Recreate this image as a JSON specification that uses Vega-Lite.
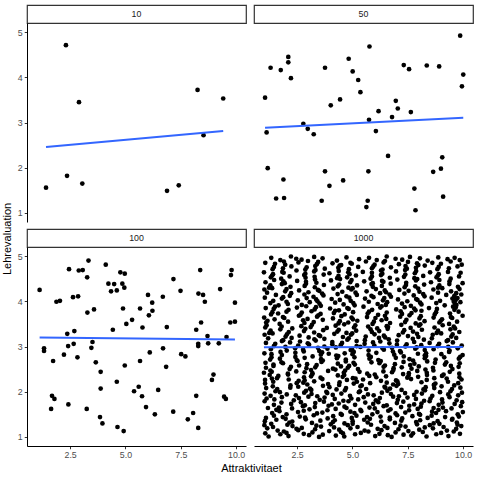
{
"$schema":"https://vega.github.io/schema/vega-lite/v6.json",
"padding":{"left":2,"top":4,"right":6,"bottom":4},
"config":{"font":"Liberation Sans","view":{"stroke":null},"axis":{"labelFont":"Liberation Sans","labelFontSize":8.8,"labelColor":"#4d4d4d","tickColor":"#333333","tickSize":2.75,"tickWidth":1,"domainColor":"black","domainWidth":1,"grid":false,"labelPadding":2},"title":{"font":"Liberation Sans","fontSize":11,"fontWeight":"normal","color":"black"}},
"datasets":{
"d10":[{"x":1.41,"y":1.56},{"x":2.31,"y":4.71},{"x":2.36,"y":1.82},{"x":2.90,"y":3.45},{"x":3.05,"y":1.65},{"x":6.88,"y":1.49},{"x":7.41,"y":1.61},{"x":8.26,"y":3.72},{"x":8.53,"y":2.72},{"x":9.42,"y":3.53}],
"d50":[{"x":9.87,"y":4.92},{"x":5.77,"y":4.68},{"x":2.10,"y":4.45},{"x":2.10,"y":4.33},{"x":4.83,"y":4.41},{"x":1.30,"y":4.21},{"x":1.76,"y":4.16},{"x":3.76,"y":4.21},{"x":5.01,"y":4.13},{"x":7.32,"y":4.27},{"x":7.56,"y":4.18},{"x":8.36,"y":4.26},{"x":8.92,"y":4.24},{"x":10.01,"y":4.06},{"x":2.22,"y":3.98},{"x":5.26,"y":3.94},{"x":9.95,"y":3.80},{"x":5.36,"y":3.67},{"x":1.05,"y":3.55},{"x":4.44,"y":3.51},{"x":4.02,"y":3.38},{"x":6.96,"y":3.48},{"x":7.05,"y":3.31},{"x":6.18,"y":3.25},{"x":7.64,"y":3.23},{"x":6.79,"y":3.12},{"x":5.75,"y":3.06},{"x":2.78,"y":2.97},{"x":2.98,"y":2.86},{"x":3.25,"y":2.74},{"x":1.12,"y":2.78},{"x":6.06,"y":2.81},{"x":6.61,"y":2.26},{"x":1.17,"y":1.99},{"x":1.88,"y":1.74},{"x":3.76,"y":1.92},{"x":4.58,"y":1.72},{"x":3.96,"y":1.60},{"x":5.72,"y":1.92},{"x":9.06,"y":2.23},{"x":8.65,"y":1.91},{"x":9.00,"y":1.98},{"x":1.55,"y":1.32},{"x":1.91,"y":1.33},{"x":3.61,"y":1.27},{"x":5.69,"y":1.27},{"x":5.63,"y":1.13},{"x":7.80,"y":1.54},{"x":7.85,"y":1.06},{"x":9.10,"y":1.36}],
"d100":[{"x":1.12,"y":4.25},{"x":1.32,"y":2.96},{"x":1.32,"y":2.90},{"x":1.73,"y":2.68},{"x":1.68,"y":1.91},{"x":1.79,"y":1.84},{"x":1.64,"y":1.62},{"x":1.88,"y":3.99},{"x":2.04,"y":4.01},{"x":2.22,"y":2.82},{"x":2.37,"y":3.28},{"x":2.41,"y":3.01},{"x":2.45,"y":4.71},{"x":2.42,"y":1.72},{"x":2.63,"y":4.09},{"x":2.86,"y":4.11},{"x":2.69,"y":3.34},{"x":2.66,"y":3.06},{"x":2.83,"y":2.76},{"x":2.89,"y":4.68},{"x":3.07,"y":4.69},{"x":3.33,"y":4.90},{"x":3.27,"y":4.53},{"x":3.28,"y":3.75},{"x":3.58,"y":3.82},{"x":3.51,"y":3.10},{"x":3.46,"y":2.97},{"x":3.66,"y":2.65},{"x":3.25,"y":1.62},{"x":3.88,"y":2.44},{"x":3.88,"y":2.07},{"x":3.85,"y":1.44},{"x":3.96,"y":1.30},{"x":4.11,"y":4.81},{"x":4.23,"y":4.39},{"x":4.35,"y":4.22},{"x":4.49,"y":4.38},{"x":4.61,"y":4.24},{"x":4.43,"y":3.37},{"x":4.77,"y":4.64},{"x":4.97,"y":4.61},{"x":4.86,"y":4.39},{"x":4.95,"y":4.30},{"x":4.89,"y":3.84},{"x":5.04,"y":3.50},{"x":4.97,"y":2.58},{"x":4.61,"y":2.22},{"x":4.64,"y":1.22},{"x":4.92,"y":1.13},{"x":5.30,"y":3.59},{"x":5.39,"y":2.01},{"x":5.60,"y":2.11},{"x":5.66,"y":3.84},{"x":5.66,"y":2.68},{"x":5.77,"y":3.42},{"x":5.75,"y":1.90},{"x":5.93,"y":1.66},{"x":6.02,"y":4.14},{"x":6.06,"y":3.69},{"x":6.10,"y":2.87},{"x":6.21,"y":3.97},{"x":6.22,"y":3.79},{"x":6.33,"y":1.50},{"x":6.48,"y":2.04},{"x":6.69,"y":4.10},{"x":6.70,"y":2.96},{"x":6.87,"y":3.43},{"x":6.84,"y":2.55},{"x":7.17,"y":4.49},{"x":7.16,"y":1.56},{"x":7.49,"y":4.23},{"x":7.52,"y":2.83},{"x":7.71,"y":2.78},{"x":7.82,"y":1.39},{"x":8.06,"y":1.53},{"x":8.20,"y":3.37},{"x":8.20,"y":1.91},{"x":8.29,"y":3.06},{"x":8.29,"y":3.01},{"x":8.29,"y":1.20},{"x":8.30,"y":4.17},{"x":8.38,"y":4.69},{"x":8.42,"y":3.53},{"x":8.51,"y":4.14},{"x":8.59,"y":3.99},{"x":8.71,"y":3.23},{"x":8.74,"y":3.07},{"x":8.91,"y":2.26},{"x":8.98,"y":2.38},{"x":9.22,"y":3.07},{"x":9.28,"y":4.27},{"x":9.46,"y":1.89},{"x":9.54,"y":1.84},{"x":9.57,"y":3.21},{"x":9.74,"y":3.53},{"x":9.77,"y":4.58},{"x":9.80,"y":4.69},{"x":9.95,"y":3.97},{"x":9.95,"y":3.55}],
"d1000":[
{"x":1.06,"y":1.08},{"x":1.21,"y":1.01},{"x":1.74,"y":1.06},{"x":2.02,"y":1.09},{"x":2.11,"y":1.02},{"x":2.80,"y":1.07},{"x":3.04,"y":1.04},{"x":3.49,"y":1.00},{"x":3.66,"y":1.05},{"x":4.25,"y":1.03},{"x":4.57,"y":1.08},{"x":4.63,"y":1.01},{"x":5.12,"y":1.06},{"x":5.38,"y":1.09},{"x":6.03,"y":1.02},{"x":6.22,"y":1.07},{"x":6.60,"y":1.04},{"x":6.77,"y":1.00},{"x":7.31,"y":1.05},{"x":7.66,"y":1.03},{"x":7.74,"y":1.08},{"x":8.35,"y":1.01},{"x":8.79,"y":1.06},{"x":9.01,"y":1.09},{"x":9.34,"y":1.02},{"x":9.86,"y":1.07},
{"x":1.15,"y":1.19},{"x":1.62,"y":1.14},{"x":1.90,"y":1.12},{"x":2.47,"y":1.18},{"x":2.55,"y":1.15},{"x":3.19,"y":1.10},{"x":3.31,"y":1.17},{"x":3.95,"y":1.13},{"x":4.40,"y":1.16},{"x":4.48,"y":1.11},{"x":4.91,"y":1.19},{"x":5.55,"y":1.14},{"x":5.72,"y":1.12},{"x":6.14,"y":1.18},{"x":6.31,"y":1.15},{"x":6.95,"y":1.10},{"x":7.08,"y":1.17},{"x":7.53,"y":1.13},{"x":8.02,"y":1.16},{"x":8.18,"y":1.11},{"x":8.64,"y":1.19},{"x":9.27,"y":1.14},{"x":9.58,"y":1.12},{"x":9.69,"y":1.18},
{"x":1.02,"y":1.26},{"x":1.33,"y":1.29},{"x":1.41,"y":1.22},{"x":2.06,"y":1.27},{"x":2.29,"y":1.24},{"x":2.71,"y":1.20},{"x":3.37,"y":1.25},{"x":3.58,"y":1.23},{"x":4.02,"y":1.28},{"x":4.17,"y":1.21},{"x":4.79,"y":1.26},{"x":5.01,"y":1.29},{"x":5.23,"y":1.22},{"x":5.84,"y":1.27},{"x":6.45,"y":1.24},{"x":6.58,"y":1.20},{"x":7.17,"y":1.25},{"x":7.40,"y":1.23},{"x":7.92,"y":1.28},{"x":8.27,"y":1.21},{"x":8.50,"y":1.26},{"x":8.93,"y":1.29},{"x":9.12,"y":1.22},{"x":9.75,"y":1.27},{"x":9.92,"y":1.24},
{"x":9.72,"y":1.32},{"x":9.50,"y":1.38},{"x":8.85,"y":1.35},{"x":8.67,"y":1.30},{"x":8.06,"y":1.37},{"x":7.88,"y":1.33},{"x":7.21,"y":1.36},{"x":6.92,"y":1.31},{"x":6.69,"y":1.39},{"x":6.30,"y":1.34},{"x":5.69,"y":1.32},{"x":5.53,"y":1.38},{"x":5.01,"y":1.35},{"x":4.64,"y":1.30},{"x":4.20,"y":1.37},{"x":4.12,"y":1.33},{"x":3.55,"y":1.36},{"x":3.17,"y":1.31},{"x":2.89,"y":1.39},{"x":2.28,"y":1.34},{"x":2.15,"y":1.32},{"x":1.56,"y":1.38},{"x":1.04,"y":1.35},
{"x":1.09,"y":1.42},{"x":1.45,"y":1.47},{"x":1.85,"y":1.44},{"x":1.98,"y":1.40},{"x":2.62,"y":1.45},{"x":2.86,"y":1.43},{"x":3.25,"y":1.48},{"x":3.88,"y":1.41},{"x":4.13,"y":1.46},{"x":4.52,"y":1.49},{"x":4.97,"y":1.42},{"x":5.18,"y":1.47},{"x":5.66,"y":1.44},{"x":5.79,"y":1.40},{"x":6.27,"y":1.45},{"x":6.69,"y":1.43},{"x":7.02,"y":1.48},{"x":7.25,"y":1.41},{"x":7.71,"y":1.46},{"x":8.06,"y":1.49},{"x":8.40,"y":1.42},{"x":8.58,"y":1.47},{"x":9.19,"y":1.44},{"x":9.52,"y":1.40},{"x":9.81,"y":1.45},
{"x":9.99,"y":1.55},{"x":9.76,"y":1.50},{"x":9.23,"y":1.57},{"x":8.78,"y":1.53},{"x":8.60,"y":1.56},{"x":8.01,"y":1.51},{"x":7.56,"y":1.59},{"x":7.39,"y":1.54},{"x":6.95,"y":1.52},{"x":6.62,"y":1.58},{"x":6.13,"y":1.55},{"x":5.90,"y":1.50},{"x":5.40,"y":1.57},{"x":5.09,"y":1.53},{"x":4.91,"y":1.56},{"x":4.47,"y":1.51},{"x":3.87,"y":1.59},{"x":3.64,"y":1.54},{"x":3.40,"y":1.52},{"x":2.80,"y":1.58},{"x":2.54,"y":1.55},{"x":2.02,"y":1.50},{"x":1.70,"y":1.57},{"x":1.37,"y":1.53},
{"x":1.18,"y":1.64},{"x":1.56,"y":1.60},{"x":1.68,"y":1.65},{"x":2.27,"y":1.63},{"x":2.76,"y":1.68},{"x":3.06,"y":1.61},{"x":3.30,"y":1.66},{"x":3.92,"y":1.69},{"x":4.24,"y":1.62},{"x":4.64,"y":1.67},{"x":4.73,"y":1.64},{"x":5.36,"y":1.60},{"x":5.77,"y":1.65},{"x":6.01,"y":1.63},{"x":6.41,"y":1.68},{"x":6.72,"y":1.61},{"x":7.20,"y":1.66},{"x":7.57,"y":1.69},{"x":7.95,"y":1.62},{"x":8.09,"y":1.67},{"x":8.67,"y":1.64},{"x":8.89,"y":1.60},{"x":9.09,"y":1.65},{"x":9.48,"y":1.63},{"x":9.90,"y":1.68},
{"x":9.96,"y":1.77},{"x":9.62,"y":1.73},{"x":9.07,"y":1.76},{"x":8.90,"y":1.71},{"x":8.49,"y":1.79},{"x":8.12,"y":1.74},{"x":7.79,"y":1.72},{"x":7.30,"y":1.78},{"x":7.01,"y":1.75},{"x":6.55,"y":1.70},{"x":6.17,"y":1.77},{"x":5.94,"y":1.73},{"x":5.58,"y":1.76},{"x":5.12,"y":1.71},{"x":4.82,"y":1.79},{"x":4.38,"y":1.74},{"x":4.07,"y":1.72},{"x":3.71,"y":1.78},{"x":3.32,"y":1.75},{"x":2.85,"y":1.70},{"x":2.67,"y":1.77},{"x":2.23,"y":1.73},{"x":1.79,"y":1.76},{"x":1.45,"y":1.71},{"x":1.03,"y":1.79},
{"x":1.12,"y":1.85},{"x":1.47,"y":1.83},{"x":1.81,"y":1.88},{"x":2.35,"y":1.81},{"x":2.58,"y":1.86},{"x":3.01,"y":1.89},{"x":3.52,"y":1.82},{"x":3.74,"y":1.87},{"x":4.20,"y":1.84},{"x":4.59,"y":1.80},{"x":4.95,"y":1.85},{"x":5.26,"y":1.83},{"x":5.51,"y":1.88},{"x":6.06,"y":1.81},{"x":6.24,"y":1.86},{"x":6.84,"y":1.89},{"x":7.05,"y":1.82},{"x":7.49,"y":1.87},{"x":7.87,"y":1.84},{"x":8.24,"y":1.80},{"x":8.53,"y":1.85},{"x":9.05,"y":1.83},{"x":9.39,"y":1.88},{"x":9.71,"y":1.81},
{"x":1.03,"y":1.96},{"x":1.30,"y":1.91},{"x":1.72,"y":1.99},{"x":2.03,"y":1.94},{"x":2.44,"y":1.92},{"x":2.82,"y":1.98},{"x":3.15,"y":1.95},{"x":3.41,"y":1.90},{"x":3.86,"y":1.97},{"x":4.11,"y":1.93},{"x":4.50,"y":1.96},{"x":4.89,"y":1.91},{"x":5.29,"y":1.99},{"x":5.70,"y":1.94},{"x":5.96,"y":1.92},{"x":6.33,"y":1.98},{"x":6.74,"y":1.95},{"x":7.10,"y":1.90},{"x":7.38,"y":1.97},{"x":7.79,"y":1.93},{"x":8.14,"y":1.96},{"x":8.61,"y":1.91},{"x":8.96,"y":1.99},{"x":9.33,"y":1.94},{"x":9.78,"y":1.92},{"x":9.95,"y":1.98},
{"x":1.10,"y":2.08},{"x":1.52,"y":2.01},{"x":1.60,"y":2.06},{"x":2.19,"y":2.09},{"x":2.90,"y":2.02},{"x":3.08,"y":2.07},{"x":3.14,"y":2.04},{"x":3.82,"y":2.00},{"x":4.28,"y":2.05},{"x":4.66,"y":2.03},{"x":4.71,"y":2.08},{"x":5.34,"y":2.01},{"x":5.62,"y":2.06},{"x":6.49,"y":2.09},{"x":6.58,"y":2.02},{"x":6.70,"y":2.07},{"x":7.22,"y":2.04},{"x":7.90,"y":2.00},{"x":8.21,"y":2.05},{"x":8.28,"y":2.03},{"x":8.70,"y":2.08},{"x":9.43,"y":2.01},{"x":9.50,"y":2.06},{"x":9.88,"y":2.09},
{"x":9.78,"y":2.19},{"x":9.60,"y":2.14},{"x":9.03,"y":2.12},{"x":8.75,"y":2.18},{"x":8.68,"y":2.15},{"x":8.31,"y":2.10},{"x":7.07,"y":2.17},{"x":6.99,"y":2.13},{"x":6.84,"y":2.16},{"x":6.45,"y":2.11},{"x":5.80,"y":2.19},{"x":5.42,"y":2.14},{"x":5.36,"y":2.12},{"x":5.06,"y":2.18},{"x":4.40,"y":2.15},{"x":3.96,"y":2.10},{"x":3.90,"y":2.17},{"x":3.67,"y":2.13},{"x":2.96,"y":2.16},{"x":2.55,"y":2.11},{"x":2.48,"y":2.19},{"x":2.20,"y":2.14},{"x":1.40,"y":2.12},{"x":1.05,"y":2.18},
{"x":1.05,"y":2.26},{"x":1.36,"y":2.29},{"x":1.42,"y":2.22},{"x":2.12,"y":2.27},{"x":2.57,"y":2.24},{"x":2.78,"y":2.20},{"x":2.84,"y":2.25},{"x":3.27,"y":2.23},{"x":3.64,"y":2.28},{"x":4.42,"y":2.21},{"x":4.75,"y":2.26},{"x":5.14,"y":2.29},{"x":5.20,"y":2.22},{"x":5.48,"y":2.27},{"x":6.29,"y":2.24},{"x":6.55,"y":2.20},{"x":6.97,"y":2.25},{"x":7.03,"y":2.23},{"x":7.65,"y":2.28},{"x":8.12,"y":2.21},{"x":8.36,"y":2.26},{"x":9.26,"y":2.29},{"x":9.32,"y":2.22},{"x":9.93,"y":2.27},
{"x":9.84,"y":2.32},{"x":9.12,"y":2.38},{"x":9.05,"y":2.35},{"x":8.70,"y":2.30},{"x":8.37,"y":2.37},{"x":7.97,"y":2.33},{"x":7.54,"y":2.36},{"x":7.48,"y":2.31},{"x":7.29,"y":2.39},{"x":6.52,"y":2.34},{"x":6.08,"y":2.32},{"x":6.01,"y":2.38},{"x":5.76,"y":2.35},{"x":5.02,"y":2.30},{"x":4.63,"y":2.37},{"x":4.56,"y":2.33},{"x":4.34,"y":2.36},{"x":3.56,"y":2.31},{"x":3.19,"y":2.39},{"x":3.13,"y":2.34},{"x":2.81,"y":2.32},{"x":2.09,"y":2.38},{"x":1.65,"y":2.35},{"x":1.59,"y":2.30},{"x":1.26,"y":2.37},
{"x":1.00,"y":2.42},{"x":1.29,"y":2.47},{"x":1.35,"y":2.44},{"x":2.08,"y":2.40},{"x":2.46,"y":2.45},{"x":2.84,"y":2.43},{"x":3.13,"y":2.48},{"x":3.19,"y":2.41},{"x":3.90,"y":2.46},{"x":4.23,"y":2.49},{"x":4.61,"y":2.42},{"x":4.67,"y":2.47},{"x":5.32,"y":2.44},{"x":5.67,"y":2.40},{"x":6.40,"y":2.45},{"x":6.79,"y":2.43},{"x":6.85,"y":2.48},{"x":7.55,"y":2.41},{"x":7.93,"y":2.46},{"x":8.30,"y":2.49},{"x":8.36,"y":2.42},{"x":8.66,"y":2.47},{"x":9.40,"y":2.44},{"x":9.83,"y":2.40},
{"x":9.80,"y":2.55},{"x":9.52,"y":2.50},{"x":9.45,"y":2.57},{"x":8.64,"y":2.53},{"x":8.00,"y":2.56},{"x":7.67,"y":2.51},{"x":7.61,"y":2.59},{"x":7.23,"y":2.54},{"x":6.86,"y":2.52},{"x":6.47,"y":2.58},{"x":6.41,"y":2.55},{"x":5.25,"y":2.50},{"x":4.85,"y":2.57},{"x":4.79,"y":2.53},{"x":4.48,"y":2.56},{"x":4.12,"y":2.51},{"x":3.38,"y":2.59},{"x":3.32,"y":2.54},{"x":2.92,"y":2.52},{"x":2.59,"y":2.58},{"x":2.22,"y":2.55},{"x":2.16,"y":2.50},{"x":1.43,"y":2.57},{"x":1.09,"y":2.53},
{"x":1.07,"y":2.64},{"x":1.43,"y":2.60},{"x":1.79,"y":2.65},{"x":1.86,"y":2.63},{"x":2.52,"y":2.68},{"x":2.95,"y":2.61},{"x":3.60,"y":2.66},{"x":3.66,"y":2.69},{"x":4.34,"y":2.62},{"x":4.70,"y":2.67},{"x":5.05,"y":2.64},{"x":5.11,"y":2.60},{"x":5.86,"y":2.65},{"x":6.22,"y":2.63},{"x":6.28,"y":2.68},{"x":6.92,"y":2.61},{"x":7.31,"y":2.66},{"x":7.74,"y":2.69},{"x":7.80,"y":2.62},{"x":8.38,"y":2.67},{"x":8.73,"y":2.64},{"x":9.18,"y":2.60},{"x":9.24,"y":2.65},{"x":9.85,"y":2.63},
{"x":9.87,"y":2.77},{"x":9.81,"y":2.73},{"x":9.15,"y":2.76},{"x":8.76,"y":2.71},{"x":8.33,"y":2.79},{"x":8.27,"y":2.74},{"x":7.58,"y":2.72},{"x":7.32,"y":2.78},{"x":6.96,"y":2.75},{"x":6.17,"y":2.70},{"x":5.83,"y":2.77},{"x":5.77,"y":2.73},{"x":5.09,"y":2.76},{"x":4.70,"y":2.71},{"x":4.36,"y":2.79},{"x":4.30,"y":2.74},{"x":3.58,"y":2.72},{"x":3.20,"y":2.78},{"x":2.84,"y":2.75},{"x":2.48,"y":2.70},{"x":2.42,"y":2.77},{"x":1.72,"y":2.73},{"x":1.34,"y":2.76},{"x":1.28,"y":2.71},
{"x":1.02,"y":2.85},{"x":1.34,"y":2.83},{"x":1.75,"y":2.88},{"x":1.81,"y":2.81},{"x":2.42,"y":2.86},{"x":2.80,"y":2.89},{"x":3.57,"y":2.82},{"x":3.63,"y":2.87},{"x":3.93,"y":2.84},{"x":4.27,"y":2.80},{"x":4.65,"y":2.85},{"x":5.00,"y":2.83},{"x":5.06,"y":2.88},{"x":5.73,"y":2.81},{"x":6.08,"y":2.86},{"x":6.83,"y":2.89},{"x":6.89,"y":2.82},{"x":7.19,"y":2.87},{"x":7.96,"y":2.84},{"x":8.27,"y":2.80},{"x":8.33,"y":2.85},{"x":9.02,"y":2.83},{"x":9.37,"y":2.88},{"x":9.98,"y":2.81},
{"x":9.76,"y":2.96},{"x":9.39,"y":2.91},{"x":9.33,"y":2.99},{"x":8.67,"y":2.94},{"x":8.27,"y":2.92},{"x":7.90,"y":2.98},{"x":7.84,"y":2.95},{"x":7.15,"y":2.90},{"x":6.79,"y":2.97},{"x":6.42,"y":2.93},{"x":6.36,"y":2.96},{"x":5.73,"y":2.91},{"x":5.36,"y":2.99},{"x":4.98,"y":2.94},{"x":4.92,"y":2.92},{"x":4.25,"y":2.98},{"x":3.87,"y":2.95},{"x":3.50,"y":2.90},{"x":3.44,"y":2.97},{"x":2.77,"y":2.93},{"x":2.41,"y":2.96},{"x":2.03,"y":2.91},{"x":1.97,"y":2.99},{"x":1.31,"y":2.94},
{"x":1.09,"y":3.08},{"x":1.45,"y":3.01},{"x":1.51,"y":3.06},{"x":2.18,"y":3.09},{"x":2.55,"y":3.02},{"x":2.98,"y":3.07},{"x":3.04,"y":3.04},{"x":3.73,"y":3.00},{"x":4.09,"y":3.05},{"x":4.47,"y":3.03},{"x":4.53,"y":3.08},{"x":5.19,"y":3.01},{"x":5.55,"y":3.06},{"x":5.93,"y":3.09},{"x":5.99,"y":3.02},{"x":6.67,"y":3.07},{"x":7.01,"y":3.04},{"x":7.39,"y":3.00},{"x":7.45,"y":3.05},{"x":8.11,"y":3.03},{"x":8.49,"y":3.08},{"x":8.86,"y":3.01},{"x":8.92,"y":3.06},{"x":9.54,"y":3.09},{"x":9.94,"y":3.02},
{"x":9.69,"y":3.19},{"x":9.32,"y":3.14},{"x":9.26,"y":3.12},{"x":8.59,"y":3.18},{"x":8.23,"y":3.15},{"x":7.79,"y":3.10},{"x":7.73,"y":3.17},{"x":7.02,"y":3.13},{"x":6.64,"y":3.16},{"x":6.26,"y":3.11},{"x":6.20,"y":3.19},{"x":5.56,"y":3.14},{"x":5.19,"y":3.12},{"x":4.83,"y":3.18},{"x":4.77,"y":3.15},{"x":4.09,"y":3.10},{"x":3.73,"y":3.17},{"x":3.34,"y":3.13},{"x":3.28,"y":3.16},{"x":2.63,"y":3.11},{"x":2.25,"y":3.19},{"x":1.87,"y":3.14},{"x":1.81,"y":3.12},{"x":1.19,"y":3.18},
{"x":1.03,"y":3.26},{"x":1.39,"y":3.29},{"x":1.98,"y":3.22},{"x":2.04,"y":3.27},{"x":2.61,"y":3.24},{"x":3.02,"y":3.20},{"x":3.48,"y":3.25},{"x":3.54,"y":3.23},{"x":4.18,"y":3.28},{"x":4.57,"y":3.21},{"x":4.93,"y":3.26},{"x":4.99,"y":3.29},{"x":5.60,"y":3.22},{"x":6.00,"y":3.27},{"x":6.42,"y":3.24},{"x":6.48,"y":3.20},{"x":7.09,"y":3.25},{"x":7.51,"y":3.23},{"x":7.92,"y":3.28},{"x":7.98,"y":3.21},{"x":8.63,"y":3.26},{"x":9.01,"y":3.29},{"x":9.47,"y":3.22},{"x":9.53,"y":3.27},
{"x":9.83,"y":3.32},{"x":9.43,"y":3.38},{"x":8.87,"y":3.35},{"x":8.81,"y":3.30},{"x":8.14,"y":3.37},{"x":7.74,"y":3.33},{"x":7.34,"y":3.36},{"x":7.28,"y":3.31},{"x":6.59,"y":3.39},{"x":6.21,"y":3.34},{"x":5.88,"y":3.32},{"x":5.82,"y":3.38},{"x":5.17,"y":3.35},{"x":4.73,"y":3.30},{"x":4.38,"y":3.37},{"x":4.32,"y":3.33},{"x":3.68,"y":3.36},{"x":3.27,"y":3.31},{"x":2.87,"y":3.39},{"x":2.81,"y":3.34},{"x":2.12,"y":3.32},{"x":1.74,"y":3.38},{"x":1.30,"y":3.35},{"x":1.24,"y":3.30},
{"x":1.06,"y":3.42},{"x":1.12,"y":3.47},{"x":1.80,"y":3.44},{"x":2.28,"y":3.40},{"x":2.69,"y":3.45},{"x":3.11,"y":3.43},{"x":3.17,"y":3.48},{"x":3.84,"y":3.41},{"x":4.24,"y":3.46},{"x":4.63,"y":3.49},{"x":5.07,"y":3.42},{"x":5.13,"y":3.47},{"x":5.71,"y":3.44},{"x":6.12,"y":3.40},{"x":6.55,"y":3.45},{"x":6.61,"y":3.43},{"x":7.21,"y":3.48},{"x":7.63,"y":3.41},{"x":8.01,"y":3.46},{"x":8.07,"y":3.49},{"x":8.71,"y":3.42},{"x":9.08,"y":3.47},{"x":9.58,"y":3.44},{"x":9.64,"y":3.40},
{"x":9.73,"y":3.55},{"x":9.37,"y":3.50},{"x":8.99,"y":3.57},{"x":8.93,"y":3.53},{"x":8.26,"y":3.56},{"x":7.86,"y":3.51},{"x":7.44,"y":3.59},{"x":7.38,"y":3.54},{"x":6.70,"y":3.52},{"x":6.32,"y":3.58},{"x":5.97,"y":3.55},{"x":5.91,"y":3.50},{"x":5.22,"y":3.57},{"x":4.81,"y":3.53},{"x":4.43,"y":3.56},{"x":4.37,"y":3.51},{"x":3.66,"y":3.59},{"x":3.25,"y":3.54},{"x":2.83,"y":3.52},{"x":2.77,"y":3.58},{"x":2.09,"y":3.55},{"x":1.71,"y":3.50},{"x":1.16,"y":3.57},{"x":1.10,"y":3.53},
{"x":1.01,"y":3.64},{"x":1.48,"y":3.60},{"x":1.86,"y":3.65},{"x":1.92,"y":3.63},{"x":2.58,"y":3.68},{"x":2.97,"y":3.61},{"x":3.40,"y":3.66},{"x":3.46,"y":3.69},{"x":4.12,"y":3.62},{"x":4.50,"y":3.67},{"x":4.96,"y":3.64},{"x":5.02,"y":3.60},{"x":5.66,"y":3.65},{"x":6.04,"y":3.63},{"x":6.47,"y":3.68},{"x":6.53,"y":3.61},{"x":7.16,"y":3.66},{"x":7.58,"y":3.69},{"x":8.03,"y":3.62},{"x":8.09,"y":3.67},{"x":8.67,"y":3.64},{"x":9.05,"y":3.60},{"x":9.45,"y":3.65},{"x":9.51,"y":3.63},{"x":9.98,"y":3.68},
{"x":9.80,"y":3.77},{"x":9.41,"y":3.73},{"x":8.78,"y":3.76},{"x":8.72,"y":3.71},{"x":8.12,"y":3.79},{"x":7.67,"y":3.74},{"x":7.24,"y":3.72},{"x":7.18,"y":3.78},{"x":6.55,"y":3.75},{"x":6.16,"y":3.70},{"x":5.75,"y":3.77},{"x":5.69,"y":3.73},{"x":5.03,"y":3.76},{"x":4.65,"y":3.71},{"x":4.22,"y":3.79},{"x":4.16,"y":3.74},{"x":3.56,"y":3.72},{"x":3.15,"y":3.78},{"x":2.71,"y":3.75},{"x":2.65,"y":3.70},{"x":2.02,"y":3.77},{"x":1.64,"y":3.73},{"x":1.38,"y":3.76},{"x":1.32,"y":3.71},
{"x":1.08,"y":3.85},{"x":1.44,"y":3.83},{"x":1.50,"y":3.88},{"x":2.11,"y":3.81},{"x":2.49,"y":3.86},{"x":2.91,"y":3.89},{"x":3.29,"y":3.82},{"x":3.35,"y":3.87},{"x":3.99,"y":3.84},{"x":4.39,"y":3.80},{"x":4.77,"y":3.85},{"x":4.83,"y":3.83},{"x":5.50,"y":3.88},{"x":5.89,"y":3.81},{"x":6.26,"y":3.86},{"x":6.32,"y":3.89},{"x":6.98,"y":3.82},{"x":7.36,"y":3.87},{"x":7.79,"y":3.84},{"x":7.85,"y":3.80},{"x":8.46,"y":3.85},{"x":8.82,"y":3.83},{"x":9.55,"y":3.88},{"x":9.61,"y":3.81},{"x":9.67,"y":3.86},
{"x":1.29,"y":3.96},{"x":1.66,"y":3.91},{"x":2.02,"y":3.99},{"x":2.08,"y":3.94},{"x":2.71,"y":3.92},{"x":3.07,"y":3.98},{"x":3.51,"y":3.95},{"x":3.57,"y":3.90},{"x":4.22,"y":3.97},{"x":4.60,"y":3.93},{"x":5.04,"y":3.96},{"x":5.10,"y":3.91},{"x":5.74,"y":3.99},{"x":6.14,"y":3.94},{"x":6.51,"y":3.92},{"x":6.57,"y":3.98},{"x":7.24,"y":3.95},{"x":7.64,"y":3.90},{"x":8.06,"y":3.97},{"x":8.12,"y":3.93},{"x":8.79,"y":3.96},{"x":9.17,"y":3.91},{"x":9.58,"y":3.99},{"x":9.64,"y":3.94},{"x":9.70,"y":3.92},{"x":9.88,"y":3.98},
{"x":1.04,"y":4.08},{"x":1.42,"y":4.01},{"x":1.81,"y":4.06},{"x":1.87,"y":4.09},{"x":2.53,"y":4.02},{"x":2.93,"y":4.07},{"x":3.36,"y":4.04},{"x":3.42,"y":4.00},{"x":4.06,"y":4.05},{"x":4.43,"y":4.03},{"x":4.86,"y":4.08},{"x":4.92,"y":4.01},{"x":5.57,"y":4.06},{"x":5.95,"y":4.09},{"x":6.38,"y":4.02},{"x":6.44,"y":4.07},{"x":7.06,"y":4.04},{"x":7.48,"y":4.00},{"x":7.88,"y":4.05},{"x":7.94,"y":4.03},{"x":8.58,"y":4.08},{"x":8.96,"y":4.01},{"x":9.52,"y":4.06},{"x":9.60,"y":4.09},{"x":9.66,"y":4.02},{"x":9.75,"y":4.07},
{"x":1.14,"y":4.19},{"x":1.54,"y":4.14},{"x":2.17,"y":4.12},{"x":2.23,"y":4.18},{"x":2.83,"y":4.15},{"x":3.24,"y":4.10},{"x":3.63,"y":4.17},{"x":3.69,"y":4.13},{"x":4.33,"y":4.16},{"x":4.73,"y":4.11},{"x":5.14,"y":4.19},{"x":5.20,"y":4.14},{"x":5.86,"y":4.12},{"x":6.25,"y":4.18},{"x":6.68,"y":4.15},{"x":6.74,"y":4.10},{"x":7.35,"y":4.17},{"x":7.77,"y":4.13},{"x":8.20,"y":4.16},{"x":8.26,"y":4.11},{"x":8.87,"y":4.19},{"x":9.24,"y":4.14},{"x":9.61,"y":4.12},{"x":9.69,"y":4.18},{"x":9.92,"y":4.15},
{"x":1.02,"y":4.26},{"x":1.37,"y":4.29},{"x":1.96,"y":4.22},{"x":2.02,"y":4.27},{"x":2.59,"y":4.24},{"x":3.01,"y":4.20},{"x":3.44,"y":4.25},{"x":3.50,"y":4.23},{"x":4.14,"y":4.28},{"x":4.54,"y":4.21},{"x":4.95,"y":4.26},{"x":5.01,"y":4.29},{"x":5.64,"y":4.22},{"x":6.06,"y":4.27},{"x":6.46,"y":4.24},{"x":6.52,"y":4.20},{"x":7.12,"y":4.25},{"x":7.54,"y":4.23},{"x":7.97,"y":4.28},{"x":8.03,"y":4.21},{"x":8.66,"y":4.26},{"x":9.06,"y":4.29},{"x":9.46,"y":4.22},{"x":9.84,"y":4.27},
{"x":9.77,"y":4.32},{"x":9.38,"y":4.38},{"x":8.93,"y":4.35},{"x":8.87,"y":4.30},{"x":8.24,"y":4.37},{"x":7.84,"y":4.33},{"x":7.42,"y":4.36},{"x":7.36,"y":4.31},{"x":6.73,"y":4.39},{"x":6.33,"y":4.34},{"x":5.92,"y":4.32},{"x":5.86,"y":4.38},{"x":5.21,"y":4.35},{"x":4.82,"y":4.30},{"x":4.40,"y":4.37},{"x":4.34,"y":4.33},{"x":3.71,"y":4.36},{"x":3.30,"y":4.31},{"x":2.90,"y":4.39},{"x":2.84,"y":4.34},{"x":2.20,"y":4.32},{"x":1.81,"y":4.38},{"x":1.29,"y":4.35},{"x":1.23,"y":4.30},
{"x":1.07,"y":4.42},{"x":1.46,"y":4.47},{"x":1.88,"y":4.44},{"x":1.94,"y":4.40},{"x":2.50,"y":4.45},{"x":2.90,"y":4.43},{"x":3.31,"y":4.48},{"x":3.37,"y":4.41},{"x":4.03,"y":4.46},{"x":4.44,"y":4.49},{"x":4.90,"y":4.42},{"x":4.96,"y":4.47},{"x":5.53,"y":4.44},{"x":5.92,"y":4.40},{"x":6.34,"y":4.45},{"x":6.40,"y":4.43},{"x":7.03,"y":4.48},{"x":7.43,"y":4.41},{"x":7.87,"y":4.46},{"x":7.93,"y":4.49},{"x":8.55,"y":4.42},{"x":8.93,"y":4.47},{"x":9.39,"y":4.44},{"x":9.98,"y":4.40},
{"x":9.82,"y":4.55},{"x":9.44,"y":4.50},{"x":8.86,"y":4.57},{"x":8.80,"y":4.53},{"x":8.20,"y":4.56},{"x":7.80,"y":4.51},{"x":7.39,"y":4.59},{"x":7.33,"y":4.54},{"x":6.69,"y":4.52},{"x":6.29,"y":4.58},{"x":5.88,"y":4.55},{"x":5.82,"y":4.50},{"x":5.16,"y":4.57},{"x":4.76,"y":4.53},{"x":4.37,"y":4.56},{"x":4.31,"y":4.51},{"x":3.70,"y":4.59},{"x":3.29,"y":4.54},{"x":2.88,"y":4.52},{"x":2.82,"y":4.58},{"x":2.16,"y":4.55},{"x":1.78,"y":4.50},{"x":1.37,"y":4.57},{"x":1.31,"y":4.53},
{"x":1.00,"y":4.64},{"x":1.41,"y":4.60},{"x":1.83,"y":4.65},{"x":1.89,"y":4.63},{"x":2.47,"y":4.68},{"x":2.87,"y":4.61},{"x":3.27,"y":4.66},{"x":3.33,"y":4.69},{"x":3.96,"y":4.62},{"x":4.38,"y":4.67},{"x":4.81,"y":4.64},{"x":4.87,"y":4.60},{"x":5.47,"y":4.65},{"x":5.88,"y":4.63},{"x":6.29,"y":4.68},{"x":6.35,"y":4.61},{"x":6.97,"y":4.66},{"x":7.38,"y":4.69},{"x":7.82,"y":4.62},{"x":7.88,"y":4.67},{"x":8.51,"y":4.64},{"x":8.90,"y":4.60},{"x":9.32,"y":4.65},{"x":9.89,"y":4.63},
{"x":9.75,"y":4.77},{"x":9.36,"y":4.73},{"x":8.90,"y":4.76},{"x":8.84,"y":4.71},{"x":8.27,"y":4.79},{"x":7.87,"y":4.74},{"x":7.46,"y":4.72},{"x":7.40,"y":4.78},{"x":6.74,"y":4.75},{"x":6.36,"y":4.70},{"x":5.94,"y":4.77},{"x":5.88,"y":4.73},{"x":5.26,"y":4.76},{"x":4.84,"y":4.71},{"x":4.42,"y":4.79},{"x":4.36,"y":4.74},{"x":3.75,"y":4.72},{"x":3.32,"y":4.78},{"x":2.93,"y":4.75},{"x":2.87,"y":4.70},{"x":2.24,"y":4.77},{"x":1.86,"y":4.73},{"x":1.45,"y":4.76},{"x":1.39,"y":4.71},
{"x":1.06,"y":4.85},{"x":1.50,"y":4.83},{"x":1.90,"y":4.88},{"x":1.96,"y":4.81},{"x":2.56,"y":4.86},{"x":2.99,"y":4.89},{"x":3.39,"y":4.82},{"x":3.45,"y":4.87},{"x":4.10,"y":4.84},{"x":4.49,"y":4.80},{"x":4.91,"y":4.85},{"x":4.97,"y":4.83},{"x":5.61,"y":4.88},{"x":6.00,"y":4.81},{"x":6.41,"y":4.86},{"x":6.47,"y":4.89},{"x":7.10,"y":4.82},{"x":7.51,"y":4.87},{"x":7.92,"y":4.84},{"x":7.98,"y":4.80},{"x":8.61,"y":4.85},{"x":9.00,"y":4.83},{"x":9.44,"y":4.88},{"x":9.94,"y":4.81},
{"x":1.33,"y":4.96},{"x":1.74,"y":4.91},{"x":2.22,"y":4.99},{"x":2.46,"y":4.94},{"x":2.70,"y":4.92},{"x":3.27,"y":4.98},{"x":3.65,"y":4.95},{"x":4.30,"y":4.90},{"x":4.73,"y":4.97},{"x":5.30,"y":4.93},{"x":5.75,"y":4.96},{"x":6.10,"y":4.91},{"x":6.55,"y":4.99},{"x":6.95,"y":4.94},{"x":7.25,"y":4.92},{"x":7.60,"y":4.98},{"x":8.05,"y":4.95},{"x":8.40,"y":4.90},{"x":8.88,"y":4.97},{"x":9.30,"y":4.93},{"x":9.62,"y":4.96},{"x":9.85,"y":4.91}
]},
"title":{"text":"Lehrevaluation","orient":"left","anchor":"middle","offset":4},
"hconcat":[{
"title":{"text":"Attraktivitaet","orient":"bottom","anchor":"middle","offset":3,"dx":6},
"spacing":6,
"vconcat":[
{"spacing":6,"hconcat":[
{"spacing":0,"bounds":"flush","vconcat":[
{"width":219,"height":18,"view":{"stroke":"#333333","strokeWidth":1.2,"fill":"white"},"data":{"values":[{"n":"10"}]},"mark":{"type":"text","fontSize":8.8,"color":"#1a1a1a","font":"Liberation Sans"},"encoding":{"text":{"field":"n","type":"nominal"}}},
{"width":219,"height":199,"data":{"name":"d10"},"encoding":{"x":{"field":"x","type":"quantitative","scale":{"domain":[0.55,10.45],"nice":false,"zero":false},"axis":null},"y":{"field":"y","type":"quantitative","scale":{"domain":[0.8,5.2],"nice":false,"zero":false},"axis":{"values":[1,2,3,4,5],"format":"d","title":null}}},"layer":[{"mark":{"type":"circle","size":22,"color":"black","opacity":1}},{"transform":[{"regression":"y","on":"x"}],"mark":{"type":"line","color":"#3366FF","strokeWidth":2}}]}
]},
{"spacing":0,"bounds":"flush","vconcat":[
{"width":219,"height":18,"view":{"stroke":"#333333","strokeWidth":1.2,"fill":"white"},"data":{"values":[{"n":"50"}]},"mark":{"type":"text","fontSize":8.8,"color":"#1a1a1a","font":"Liberation Sans"},"encoding":{"text":{"field":"n","type":"nominal"}}},
{"width":219,"height":199,"data":{"name":"d50"},"encoding":{"x":{"field":"x","type":"quantitative","scale":{"domain":[0.55,10.45],"nice":false,"zero":false},"axis":null},"y":{"field":"y","type":"quantitative","scale":{"domain":[0.8,5.2],"nice":false,"zero":false},"axis":null}},"layer":[{"mark":{"type":"circle","size":22,"color":"black","opacity":1}},{"transform":[{"regression":"y","on":"x"}],"mark":{"type":"line","color":"#3366FF","strokeWidth":2}}]}
]}
]},
{"spacing":6,"hconcat":[
{"spacing":0,"bounds":"flush","vconcat":[
{"width":219,"height":18,"view":{"stroke":"#333333","strokeWidth":1.2,"fill":"white"},"data":{"values":[{"n":"100"}]},"mark":{"type":"text","fontSize":8.8,"color":"#1a1a1a","font":"Liberation Sans"},"encoding":{"text":{"field":"n","type":"nominal"}}},
{"width":219,"height":199,"data":{"name":"d100"},"encoding":{"x":{"field":"x","type":"quantitative","scale":{"domain":[0.55,10.45],"nice":false,"zero":false},"axis":{"values":[2.5,5,7.5,10],"format":".1f","title":null}},"y":{"field":"y","type":"quantitative","scale":{"domain":[0.8,5.2],"nice":false,"zero":false},"axis":{"values":[1,2,3,4,5],"format":"d","title":null}}},"layer":[{"mark":{"type":"circle","size":22,"color":"black","opacity":1}},{"transform":[{"regression":"y","on":"x"}],"mark":{"type":"line","color":"#3366FF","strokeWidth":2}}]}
]},
{"spacing":0,"bounds":"flush","vconcat":[
{"width":219,"height":18,"view":{"stroke":"#333333","strokeWidth":1.2,"fill":"white"},"data":{"values":[{"n":"1000"}]},"mark":{"type":"text","fontSize":8.8,"color":"#1a1a1a","font":"Liberation Sans"},"encoding":{"text":{"field":"n","type":"nominal"}}},
{"width":219,"height":199,"data":{"name":"d1000"},"encoding":{"x":{"field":"x","type":"quantitative","scale":{"domain":[0.55,10.45],"nice":false,"zero":false},"axis":{"values":[2.5,5,7.5,10],"format":".1f","title":null}},"y":{"field":"y","type":"quantitative","scale":{"domain":[0.8,5.2],"nice":false,"zero":false},"axis":null}},"layer":[{"mark":{"type":"circle","size":22,"color":"black","opacity":1}},{"transform":[{"regression":"y","on":"x"}],"mark":{"type":"line","color":"#3366FF","strokeWidth":2}}]}
]}
]}
]
}]
}
